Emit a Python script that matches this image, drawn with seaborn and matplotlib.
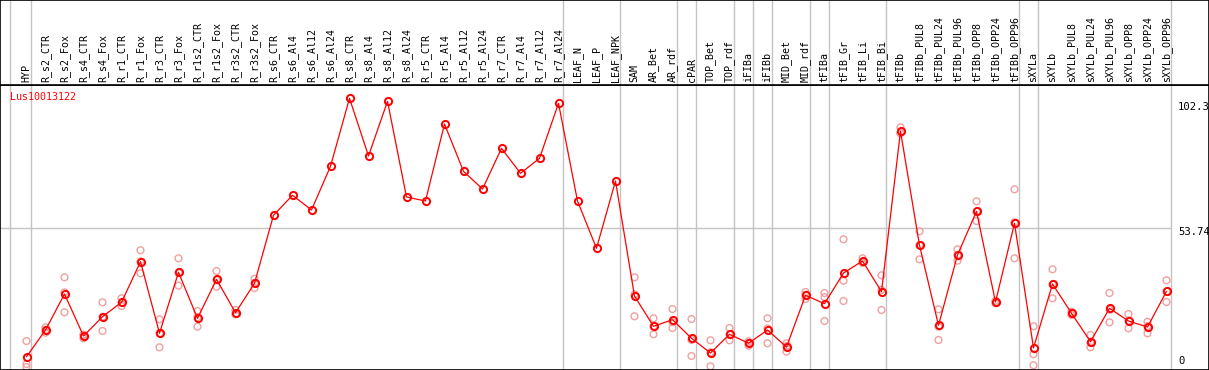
import numpy as np
import pandas as pd
import matplotlib
matplotlib.use("Agg")
import matplotlib.pyplot as plt
import seaborn as sns

samples = ['HYP', 'R_s2_CTR', 'R_s2_Fox', 'R_s4_CTR', 'R_s4_Fox', 'R_r1_CTR', 'R_r1_Fox',
           'R_r3_CTR', 'R_r3_Fox', 'R_r1s2_CTR', 'R_r1s2_Fox', 'R_r3s2_CTR', 'R_r3s2_Fox',
           'R_s6_CTR', 'R_s6_Al4', 'R_s6_Al12', 'R_s6_Al24', 'R_s8_CTR', 'R_s8_Al4',
           'R_s8_Al12', 'R_s8_Al24', 'R_r5_CTR', 'R_r5_Al4', 'R_r5_Al12', 'R_r5_Al24',
           'R_r7_CTR', 'R_r7_Al4', 'R_r7_Al12', 'R_r7_Al24', 'LEAF_N', 'LEAF_P', 'LEAF_NPK',
           'SAM', 'AR_Bet', 'AR_rdf', 'cPAR', 'TOP_Bet', 'TOP_rdf', 'iFIBa', 'iFIBb',
           'MID_Bet', 'MID_rdf', 'tFIBa', 'tFIB_Gr', 'tFIB_Li', 'tFIB_Bi', 'tFIBb',
           'tFIBb_PUL8', 'tFIBb_PUL24', 'tFIBb_PUL96', 'tFIBb_OPP8', 'tFIBb_OPP24',
           'tFIBb_OPP96', 'sXYLa', 'sXYLb', 'sXYLb_PUL8', 'sXYLb_PUL24', 'sXYLb_PUL96',
           'sXYLb_OPP8', 'sXYLb_OPP24', 'sXYLb_OPP96']

mean_expr = [5.79, 15.76, 29.21, 13.52, 20.73, 26.11, 41.28, 14.53, 37.32, 20.13,
             34.70, 22.23, 33.21, 58.61, 66.08, 60.59, 76.91, 102.32, 80.76, 101.20,
             65.45, 63.95, 92.72, 75.05, 68.43, 83.64, 74.30, 79.90, 100.45, 63.95,
             46.28, 71.42, 28.46, 17.15, 19.61, 12.66, 7.17, 14.16, 10.80, 15.76,
             9.41, 28.73, 25.59, 37.06, 41.54, 30.07, 89.99, 47.40, 17.52, 43.78,
             60.10, 26.22, 55.62, 9.04, 32.95, 22.00, 11.39, 23.87, 19.13, 16.88, 30.22]

nan = np.nan
rep1 = [11.65, 16.77, 35.45, 13.90, 26.11, 27.61, 45.54, 19.76, 42.55, 22.86,
        37.80, 23.24, 34.93, nan, nan, nan, nan, nan, nan, nan,
        nan, nan, nan, nan, nan, nan, nan, nan, nan, nan,
        nan, nan, 35.45, 20.13, 23.61, 19.87, 11.92, 16.51, 11.54, 20.13,
        10.80, 29.96, 29.59, 49.65, 42.55, 36.20, 91.48, 52.63, 23.50, 45.91,
        63.84, 26.71, 68.32, 17.15, 38.44, 22.60, 13.90, 29.59, 21.74, 18.86, 34.33]
rep2 = [3.06, 14.76, 22.38, 12.66, 15.39, 24.73, 36.94, 9.30, 32.31, 17.00,
        31.94, 21.63, 31.45, nan, nan, nan, nan, nan, nan, nan,
        nan, nan, nan, nan, nan, nan, nan, nan, nan, nan,
        nan, nan, 20.88, 14.16, 16.51, 6.05, 2.20, 11.92, 9.90, 10.80,
        7.66, 27.34, 19.13, 34.18, 41.17, 23.24, 89.24, 42.17, 12.03, 41.65,
        56.48, 25.74, 42.55, 6.69, 27.61, 21.37, 9.30, 18.64, 16.40, 14.53, 26.22]
rep3 = [1.94, 15.76, 29.81, 14.01, 20.69, 26.00, 41.35, 14.53, 37.09, 20.55,
        34.37, 21.82, 33.25, nan, nan, nan, nan, nan, nan, nan,
        nan, nan, nan, nan, nan, nan, nan, nan, nan, nan,
        nan, nan, 29.06, 17.15, 18.71, 12.07, 7.40, 14.05, 10.95, 16.36,
        9.79, 28.88, 28.05, 26.60, 40.79, 30.78, 89.24, 47.40, 17.03, 43.78,
        59.99, 26.22, 56.00, 2.58, 32.80, 22.04, 10.98, 23.38, 19.24, 17.26, 30.11]

# group separators sit just right of these columns
group_ends = [-1, 0, 28, 31, 34, 35, 37, 38, 39, 41, 42, 45, 52, 53, 60]

gene = 'Lus10013122'
y_ticks = [102.3, 53.74, 0]

x = np.arange(len(samples))
means = pd.DataFrame({'pos': x, 'expr': mean_expr})
reps = pd.DataFrame({'pos': np.tile(x, 3), 'expr': rep1 + rep2 + rep3}).dropna()

sns.set_style("white")
plt.rcParams['font.family'] = ['DejaVu Sans Mono', 'DejaVu Sans']

W, H = 1209, 370
fig = plt.figure(figsize=(W / 100, H / 100), dpi=100)
head_h = 85
ax = fig.add_axes([0, 0, 1, (H - head_h) / H])
axh = fig.add_axes([0, (H - head_h) / H, 1, head_h / H])

# column i at pixel 26.5 + 19*i
x0, dx = 26.5, 19.0
xlim = (-x0 / dx, (W - x0) / dx)
y_zero, y_scale = 372.2, 2.677
ylim = ((y_zero - H) / y_scale, (y_zero - head_h) / y_scale)

for a in (ax, axh):
    a.set_xlim(*xlim)
    for g in group_ends:
        xv = g + 0.23 if g >= 0 else g + 0.15
        a.axvline(xv, color='#c4c4c4', lw=1, zorder=0)
    for s in a.spines.values():
        s.set_color('black')
        s.set_linewidth(1.2)
    a.set_xticks([])
    a.set_yticks([])
    a.set_xlabel('')
    a.set_ylabel('')

ax.set_ylim(*ylim)
ax.axhline(53.74, xmax=(1171 / W), color='#c4c4c4', lw=1, zorder=0)

sns.scatterplot(data=reps, x='pos', y='expr', ax=ax, marker='o', s=24,
                fc='none', ec='#f0a0a0', linewidth=1.0, zorder=2, legend=False)
sns.lineplot(data=means, x='pos', y='expr', ax=ax, color='red', lw=0.9,
             marker='o', markersize=5.2, markerfacecolor='none',
             markeredgecolor='red', markeredgewidth=1.4, zorder=3)
ax.set_xlabel('')
ax.set_ylabel('')

ax.text(-0.88, (y_zero - 97) / y_scale, gene, color='red', fontsize=7.2,
        ha='left', va='center')
tick_x = (1178 - x0) / dx
for v, py in zip(y_ticks, [107, 232.5, 361.5]):
    ax.text(tick_x, (y_zero - py) / y_scale, f'{v:g}', color='black',
            fontsize=7.6, ha='left', va='center')

axh.set_ylim(0, 1)
for i, name in enumerate(samples):
    axh.text(i, 2.5 / head_h, name, rotation=90, ha='center', va='bottom',
             fontsize=7.2, color='black')

fig.savefig('out.png', dpi=100)
